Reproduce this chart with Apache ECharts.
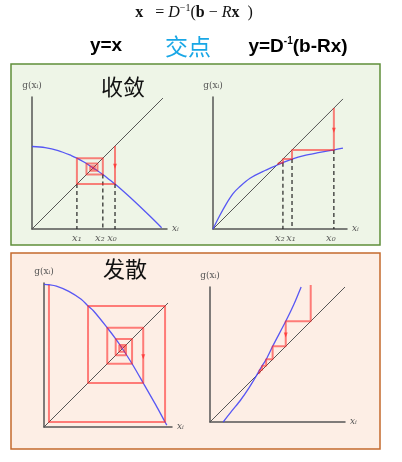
<!DOCTYPE html>
<html><head><meta charset="utf-8">
<script src="https://cdn.jsdelivr.net/npm/echarts@6/dist/echarts.min.js"></script>
<style>html,body{margin:0;padding:0;background:#fff}#c{width:402px;height:462px}</style>
</head><body><div id="c"></div>
<script>
// ---------- data ----------
const diagonal = [[0, 0], [1, 1]];

// panel 1: converging, decreasing g
const curve1 = [[0,0.63],[0.1,0.622],[0.2,0.599],[0.3,0.561],[0.343,0.541],[0.4,0.51],[0.416,0.50],[0.466,0.466],[0.5,0.445],[0.541,0.416],[0.6,0.37],[0.634,0.343],[0.7,0.286],[0.8,0.195],[0.9,0.099],[0.99,0.01]];
const cobweb1X = [0.634, 0.343, 0.541, 0.416, 0.50, 0.445, 0.48, 0.46, 0.472, 0.465];
const drop1 = [[0.343,0.343],[0.541,0.416],[0.634,0.343]];
const ticks1 = [['x₁',0.343,0],['x₂',0.541,-3],['x₀',0.634,-3]];
const arrow1 = [[0.634,0.48]];

// panel 2: converging, increasing g
const curve2 = [[0,0],[0.05,0.10],[0.1,0.19],[0.154,0.272],[0.2,0.32],[0.285,0.39],[0.4,0.45],[0.49,0.49],[0.538,0.51],[0.608,0.538],[0.7,0.565],[0.8,0.585],[0.93,0.608],[1.0,0.622]];
const cobweb2X = [0.93, 0.608, 0.538, 0.51, 0.497, 0.492];
const drop2 = [[0.93,0.608],[0.608,0.538],[0.538,0.51]];
const ticks2 = [['x₂',0.538,-3],['x₁',0.608,-1],['x₀',0.93,-3]];
const arrow2 = [[0.93,0.76]];

// panel 3: diverging, decreasing g
const curve3 = [[0,1.15],[0.04,1.147],[0.1,1.136],[0.2,1.094],[0.3,1.03],[0.355,0.976],[0.4,0.935],[0.51,0.80],[0.578,0.71],[0.63,0.635],[0.71,0.51],[0.8,0.355],[0.9,0.18],[0.976,0.04],[0.99,0.015]];
const cobweb3X = [0.627, 0.64, 0.62, 0.65, 0.607, 0.661, 0.578, 0.71, 0.51, 0.80, 0.355, 0.976, 0.04, 1.145];
const arrow3 = [[0.80,0.567]];

// panel 4: diverging, steep increasing g
const curve4 = [[0.098,0],[0.16,0.08],[0.227,0.163],[0.29,0.255],[0.345,0.345],[0.358,0.368],[0.368,0.386],[0.386,0.416],[0.416,0.464],[0.464,0.561],[0.561,0.746],[0.62,0.868],[0.675,1.0]];
const cobweb4X = [0.746, 0.561, 0.464, 0.416, 0.386, 0.368, 0.358];
const cobweb4Top = 1.015;
const arrow4 = [[0.561,0.644]];

// ---------- build ----------
function cobwebPath(xs){const p=[[xs[0],xs[0]]];for(let i=0;i<xs.length-1;i++){p.push([xs[i],xs[i+1]]);if(i<xs.length-2)p.push([xs[i+1],xs[i+1]]);}return p;}
function inversePath(xs,top){const p=[[xs[0],top],[xs[0],xs[0]]];for(let i=0;i<xs.length-1;i++){p.push([xs[i+1],xs[i]]);p.push([xs[i+1],xs[i+1]]);}return p;}

const grids=[
 {left:32,top:97,width:135,height:132,xmax:1.031,ymax:1.008},
 {left:213,top:97,width:134,height:132,xmax:1.031,ymax:1.015},
 {left:44,top:283,width:128,height:144,xmax:1.032,ymax:1.161},
 {left:210,top:287,width:135,height:135,xmax:1.0,ymax:1.0}
];
const AX='#555';
const nameStyle={fontFamily:'DejaVu Serif',fontSize:9,color:'#555',fontStyle:'italic'};
const xAxes=grids.map((g,i)=>({type:'value',gridIndex:i,min:0,max:g.xmax,axisLine:{show:true,lineStyle:{color:AX,width:1.5}},axisTick:{show:false},axisLabel:{show:false},splitLine:{show:false},name:'xᵢ',nameLocation:'end',nameGap:5,nameTextStyle:nameStyle}));
const yAxes=grids.map((g,i)=>({type:'value',gridIndex:i,min:0,max:g.ymax,axisLine:{show:true,lineStyle:{color:AX,width:1.5}},axisTick:{show:false},axisLabel:{show:false},splitLine:{show:false},name:'g(xᵢ)',nameLocation:'end',nameGap:7,nameTextStyle:Object.assign({},nameStyle,{fontStyle:'normal'})}));

const RED='rgba(255,30,30,0.55)', BLUE='rgba(70,70,245,0.9)';
function L(i,data,color,width,extra){return Object.assign({type:'line',xAxisIndex:i,yAxisIndex:i,data,symbol:'none',showSymbol:false,lineStyle:{color,width},silent:true,clip:false,animation:false},extra||{});}
function arrows(i,data){return {type:'scatter',xAxisIndex:i,yAxisIndex:i,data,symbol:'triangle',symbolRotate:180,symbolSize:[4,5],itemStyle:{color:'rgba(255,30,30,0.8)'},silent:true,animation:false,z:5};}
function ticks(i,arr){return {type:'scatter',xAxisIndex:i,yAxisIndex:i,symbolSize:0,silent:true,animation:false,
 data:arr.map(t=>({name:t[0],value:[t[1],0],label:{offset:[t[2],0]}})),
 label:{show:true,position:'bottom',distance:4,formatter:'{b}',fontFamily:'DejaVu Serif',fontStyle:'italic',fontSize:10,color:'#333'}};}
function drops(i,arr){return arr.map(d=>L(i,[[d[0],d[1]],[d[0],0]],'#222',1.2,{lineStyle:{color:'#222',width:1.2,type:[4,3]},z:3}));}

const series=[];
// panel 1
series.push(L(0,diagonal,'#555',1));
series.push(L(0,curve1,BLUE,1.3,{smooth:0.3}));
series.push(...drops(0,drop1));
series.push(L(0,cobwebPath(cobweb1X),RED,2,{z:4}));
series.push(arrows(0,arrow1));
series.push(ticks(0,ticks1));
// panel 2
series.push(L(1,diagonal,'#555',1));
series.push(L(1,curve2,BLUE,1.3,{smooth:0.3}));
series.push(...drops(1,drop2));
series.push(L(1,cobwebPath(cobweb2X),RED,2,{z:4}));
series.push(arrows(1,arrow2));
series.push(ticks(1,ticks2));
// panel 3
series.push(L(2,diagonal,'#555',1));
series.push(L(2,curve3,BLUE,1.3,{smooth:0.3}));
series.push(L(2,cobwebPath(cobweb3X),RED,2,{z:4}));
series.push(arrows(2,arrow3));
// panel 4
series.push(L(3,diagonal,'#555',1));
series.push(L(3,curve4,BLUE,1.3,{smooth:0.3}));
series.push(L(3,inversePath(cobweb4X,cobweb4Top),RED,2,{z:4}));
series.push(arrows(3,arrow4));

const serif='Liberation Serif';
const graphic=[
 {type:'rect',shape:{x:11,y:64,width:369,height:181},style:{fill:'#eef5e7',stroke:'#5f8f3a',lineWidth:1.5},z:-10,silent:true},
 {type:'rect',shape:{x:11,y:253,width:369,height:196},style:{fill:'#fdeee5',stroke:'#c46a2c',lineWidth:1.5},z:-10,silent:true},
 {type:'text',x:194,y:12,z:100,style:{text:'{b|x}{n|   = }{i|D}{s|−1}{n|(}{b|b}{n| − }{i|R}{b|x}{n|  )}',align:'center',verticalAlign:'middle',
   rich:{b:{fontFamily:serif,fontWeight:'bold',fontSize:16,fill:'#111',lineHeight:18,verticalAlign:'bottom'},
         n:{fontFamily:serif,fontSize:16,fill:'#111',lineHeight:18,verticalAlign:'bottom'},
         i:{fontFamily:serif,fontStyle:'italic',fontSize:16,fill:'#111',lineHeight:18,verticalAlign:'bottom'},
         s:{fontFamily:serif,fontSize:10,fill:'#111',lineHeight:18,verticalAlign:'top'}}}},
 {type:'text',x:106,y:46,z:100,style:{text:'y=x',font:'bold 19px "Liberation Sans"',fill:'#000',align:'center',verticalAlign:'middle'}},
 {type:'text',x:188,y:46,z:100,style:{text:'交点',font:'23px "Noto Sans CJK SC"',fill:'#19a7e6',align:'center',verticalAlign:'middle'}},
 {type:'text',x:298,y:46,z:100,style:{text:'{a|y=D}{s|-1}{a|(b-Rx)}',align:'center',verticalAlign:'middle',
   rich:{a:{font:'bold 19px "Liberation Sans"',fill:'#000',lineHeight:20,verticalAlign:'bottom'},
         s:{font:'bold 10px "Liberation Sans"',fill:'#000',lineHeight:20,verticalAlign:'top'}}}},
 {type:'text',x:123,y:87,z:100,style:{text:'收敛',font:'22px "Noto Sans CJK SC"',fill:'#111',align:'center',verticalAlign:'middle'}},
 {type:'text',x:125,y:269,z:100,style:{text:'发散',font:'22px "Noto Sans CJK SC"',fill:'#111',align:'center',verticalAlign:'middle'}}
];

const chart=echarts.init(document.getElementById('c'),null,{renderer:'canvas'});
chart.setOption({
 animation:false,
 grid:grids.map(g=>({left:g.left,top:g.top,width:g.width,height:g.height,containLabel:false})),
 xAxis:xAxes, yAxis:yAxes, series, graphic
});
</script></body></html>
